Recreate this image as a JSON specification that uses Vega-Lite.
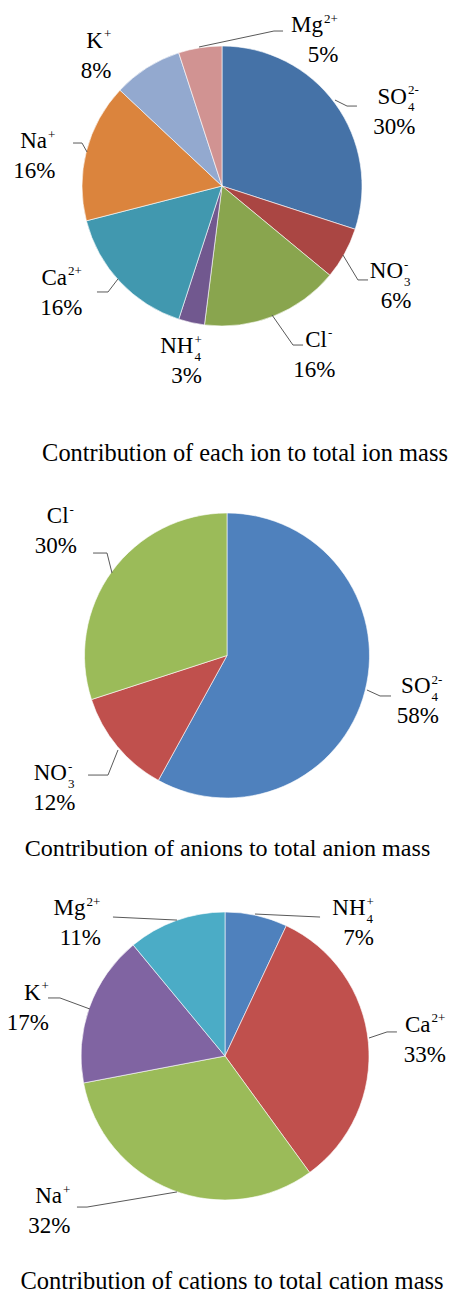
{
  "$schema": "https://vega.github.io/schema/vega-lite/v6.json",
  "padding": 0,
  "background": "white",
  "bounds": "flush",
  "spacing": 125,
  "config": {"view": {"stroke": null}},
  "resolve": {"scale": {"color": "independent", "theta": "independent", "x": "independent", "y": "independent"}},
  "datasets": {
    "p1": [
      {"ion": "SO₄²⁻", "share": 30},
      {"ion": "NO₃⁻", "share": 6},
      {"ion": "Cl⁻", "share": 16},
      {"ion": "NH₄⁺", "share": 3},
      {"ion": "Ca²⁺", "share": 16},
      {"ion": "Na⁺", "share": 16},
      {"ion": "K⁺", "share": 8},
      {"ion": "Mg²⁺", "share": 5}
    ],
    "p1_labels": [
      {"ion": "SO₄²⁻", "base": "SO", "sub": "4", "sup": "2-", "u": 1.321, "v": 0.586},
      {"ion": "NO₃⁻", "base": "NO", "sub": "3", "sup": "-", "u": 1.293, "v": -0.659},
      {"ion": "Cl⁻", "base": "Cl", "sub": "", "sup": "-", "u": 0.75, "v": -1.148},
      {"ion": "NH₄⁺", "base": "NH", "sub": "4", "sup": "+", "u": -0.204, "v": -1.195},
      {"ion": "Ca²⁺", "base": "Ca", "sub": "", "sup": "2+", "u": -1.107, "v": -0.707},
      {"ion": "Na⁺", "base": "Na", "sub": "", "sup": "+", "u": -1.25, "v": 0.271},
      {"ion": "K⁺", "base": "K", "sub": "", "sup": "+", "u": -0.85, "v": 0.986},
      {"ion": "Mg²⁺", "base": "Mg", "sub": "", "sup": "2+", "u": 0.721, "v": 1.1}
    ],
    "p1_leaders": [
      {"ion": "Mg²⁺", "pt": 1, "u": -0.164, "v": 0.993},
      {"ion": "Mg²⁺", "pt": 2, "u": 0.371, "v": 1.107},
      {"ion": "Mg²⁺", "pt": 3, "u": 0.436, "v": 1.107},
      {"ion": "SO₄²⁻", "pt": 1, "u": 0.807, "v": 0.614},
      {"ion": "SO₄²⁻", "pt": 2, "u": 0.893, "v": 0.571},
      {"ion": "SO₄²⁻", "pt": 3, "u": 0.964, "v": 0.571},
      {"ion": "NO₃⁻", "pt": 1, "u": 0.864, "v": -0.493},
      {"ion": "NO₃⁻", "pt": 2, "u": 0.971, "v": -0.671},
      {"ion": "NO₃⁻", "pt": 3, "u": 1.043, "v": -0.671},
      {"ion": "Cl⁻", "pt": 1, "u": 0.357, "v": -0.921},
      {"ion": "Cl⁻", "pt": 2, "u": 0.507, "v": -1.136},
      {"ion": "Cl⁻", "pt": 3, "u": 0.579, "v": -1.136},
      {"ion": "Ca²⁺", "pt": 1, "u": -0.743, "v": -0.664},
      {"ion": "Ca²⁺", "pt": 2, "u": -0.814, "v": -0.757},
      {"ion": "Ca²⁺", "pt": 3, "u": -0.893, "v": -0.757},
      {"ion": "Na⁺", "pt": 1, "u": -0.964, "v": 0.243},
      {"ion": "Na⁺", "pt": 2, "u": -1.0, "v": 0.307},
      {"ion": "Na⁺", "pt": 3, "u": -1.064, "v": 0.307}
    ],
    "p2": [
      {"ion": "SO₄²⁻", "share": 58},
      {"ion": "NO₃⁻", "share": 12},
      {"ion": "Cl⁻", "share": 30}
    ],
    "p2_labels": [
      {"ion": "SO₄²⁻", "base": "SO", "sub": "4", "sup": "2-", "u": 1.428, "v": -0.265},
      {"ion": "NO₃⁻", "base": "NO", "sub": "3", "sup": "-", "u": -1.123, "v": -0.874},
      {"ion": "Cl⁻", "base": "Cl", "sub": "", "sup": "-", "u": -1.112, "v": 0.928}
    ],
    "p2_leaders": [
      {"ion": "Cl⁻", "pt": 1, "u": -0.807, "v": 0.579},
      {"ion": "Cl⁻", "pt": 2, "u": -0.842, "v": 0.719},
      {"ion": "Cl⁻", "pt": 3, "u": -0.94, "v": 0.719},
      {"ion": "SO₄²⁻", "pt": 1, "u": 0.982, "v": -0.242},
      {"ion": "SO₄²⁻", "pt": 2, "u": 1.074, "v": -0.284},
      {"ion": "SO₄²⁻", "pt": 3, "u": 1.151, "v": -0.284},
      {"ion": "NO₃⁻", "pt": 1, "u": -0.765, "v": -0.663},
      {"ion": "NO₃⁻", "pt": 2, "u": -0.835, "v": -0.839},
      {"ion": "NO₃⁻", "pt": 3, "u": -0.975, "v": -0.839}
    ],
    "p3": [
      {"ion": "NH₄⁺", "share": 7},
      {"ion": "Ca²⁺", "share": 33},
      {"ion": "Na⁺", "share": 32},
      {"ion": "K⁺", "share": 17},
      {"ion": "Mg²⁺", "share": 11}
    ],
    "p3_labels": [
      {"ion": "NH₄⁺", "base": "NH", "sub": "4", "sup": "+", "u": 0.976, "v": 0.979},
      {"ion": "Ca²⁺", "base": "Ca", "sub": "", "sup": "2+", "u": 1.427, "v": 0.169},
      {"ion": "Na⁺", "base": "Na", "sub": "", "sup": "+", "u": -1.132, "v": -1.023},
      {"ion": "K⁺", "base": "K", "sub": "", "sup": "+", "u": -1.281, "v": 0.389},
      {"ion": "Mg²⁺", "base": "Mg", "sub": "", "sup": "2+", "u": -0.969, "v": 0.979}
    ],
    "p3_leaders": [
      {"ion": "NH₄⁺", "pt": 1, "u": 0.208, "v": 0.986},
      {"ion": "NH₄⁺", "pt": 2, "u": 0.66, "v": 0.965},
      {"ion": "Ca²⁺", "pt": 1, "u": 1.0, "v": 0.125},
      {"ion": "Ca²⁺", "pt": 2, "u": 1.125, "v": 0.167},
      {"ion": "Ca²⁺", "pt": 3, "u": 1.194, "v": 0.167},
      {"ion": "Na⁺", "pt": 1, "u": -0.333, "v": -0.944},
      {"ion": "Na⁺", "pt": 2, "u": -0.958, "v": -1.049},
      {"ion": "Na⁺", "pt": 3, "u": -1.028, "v": -1.049},
      {"ion": "K⁺", "pt": 1, "u": -0.9375, "v": 0.326},
      {"ion": "K⁺", "pt": 2, "u": -1.146, "v": 0.403},
      {"ion": "K⁺", "pt": 3, "u": -1.229, "v": 0.403},
      {"ion": "Mg²⁺", "pt": 1, "u": -0.333, "v": 0.944},
      {"ion": "Mg²⁺", "pt": 2, "u": -0.778, "v": 0.965}
    ]
  },
  "vconcat": [
    {
      "width": 444,
      "height": 372,
      "title": {"text": "Contribution of each ion to total ion mass", "orient": "bottom", "anchor": "middle", "frame": "group", "baseline": "alphabetic", "offset": 73, "dx": 23, "font": "Liberation Serif", "fontSize": 24.4, "fontWeight": "normal", "color": "#000000"},
      "layer": [
        {
          "data": {"name": "p1"},
          "transform": [{"window": [{"op": "row_number", "as": "idx"}]}],
          "mark": {"type": "arc", "radius": 140, "stroke": "#ffffff", "strokeWidth": 0.6},
          "encoding": {
            "theta": {"field": "share", "type": "quantitative", "stack": true, "scale": {"type": "linear", "domain": [0, 100], "range": [0, 6.283185307]}},
            "color": {"field": "ion", "type": "nominal", "legend": null, "scale": {"domain": ["SO₄²⁻", "NO₃⁻", "Cl⁻", "NH₄⁺", "Ca²⁺", "Na⁺", "K⁺", "Mg²⁺"], "range": ["#4572A7", "#AA4643", "#89A54E", "#71588F", "#4198AF", "#DB843D", "#93A9CF", "#D19392"]}},
            "order": {"field": "idx", "type": "quantitative"}
          }
        },
        {
          "data": {"name": "p1_leaders"},
          "mark": {"type": "line", "color": "#595959", "strokeWidth": 1},
          "encoding": {
            "x": {"field": "u", "type": "quantitative", "axis": null, "scale": {"domain": [-1.5857, 1.5857], "nice": false, "zero": false}},
            "y": {"field": "v", "type": "quantitative", "axis": null, "scale": {"domain": [-1.3286, 1.3286], "nice": false, "zero": false}},
            "detail": {"field": "ion"},
            "order": {"field": "pt", "type": "quantitative"}
          }
        },
        {
          "data": {"name": "p1"},
          "transform": [{"lookup": "ion", "from": {"data": {"name": "p1_labels"}, "key": "ion", "fields": ["base", "sub", "sup", "u", "v"]}}],
          "mark": {"type": "text", "align": "right", "baseline": "alphabetic", "font": "Times New Roman", "fontSize": 23, "color": "#000000"},
          "encoding": {
            "x": {"field": "u", "type": "quantitative", "axis": null, "scale": {"domain": [-1.5857, 1.5857], "nice": false, "zero": false}},
            "y": {"field": "v", "type": "quantitative", "axis": null, "scale": {"domain": [-1.3286, 1.3286], "nice": false, "zero": false}},
            "text": {"field": "base"}
          }
        },
        {
          "data": {"name": "p1"},
          "transform": [{"lookup": "ion", "from": {"data": {"name": "p1_labels"}, "key": "ion", "fields": ["base", "sub", "sup", "u", "v"]}}],
          "mark": {"type": "text", "align": "left", "baseline": "alphabetic", "dx": 1, "dy": -9.5, "font": "Times New Roman", "fontSize": 13, "color": "#000000"},
          "encoding": {
            "x": {"field": "u", "type": "quantitative", "axis": null, "scale": {"domain": [-1.5857, 1.5857], "nice": false, "zero": false}},
            "y": {"field": "v", "type": "quantitative", "axis": null, "scale": {"domain": [-1.3286, 1.3286], "nice": false, "zero": false}},
            "text": {"field": "sup"}
          }
        },
        {
          "data": {"name": "p1"},
          "transform": [{"lookup": "ion", "from": {"data": {"name": "p1_labels"}, "key": "ion", "fields": ["base", "sub", "sup", "u", "v"]}}],
          "mark": {"type": "text", "align": "left", "baseline": "alphabetic", "dx": 1, "dy": 7.5, "font": "Times New Roman", "fontSize": 13, "color": "#000000"},
          "encoding": {
            "x": {"field": "u", "type": "quantitative", "axis": null, "scale": {"domain": [-1.5857, 1.5857], "nice": false, "zero": false}},
            "y": {"field": "v", "type": "quantitative", "axis": null, "scale": {"domain": [-1.3286, 1.3286], "nice": false, "zero": false}},
            "text": {"field": "sub"}
          }
        },
        {
          "data": {"name": "p1"},
          "transform": [
            {"lookup": "ion", "from": {"data": {"name": "p1_labels"}, "key": "ion", "fields": ["base", "sub", "sup", "u", "v"]}},
            {"calculate": "datum.share + '%'", "as": "pct"}
          ],
          "mark": {"type": "text", "align": "right", "baseline": "alphabetic", "dx": {"expr": "datum.sup == '2+' ? 15.5 : 8.5"}, "dy": 30, "font": "Times New Roman", "fontSize": 23, "color": "#000000"},
          "encoding": {
            "x": {"field": "u", "type": "quantitative", "axis": null, "scale": {"domain": [-1.5857, 1.5857], "nice": false, "zero": false}},
            "y": {"field": "v", "type": "quantitative", "axis": null, "scale": {"domain": [-1.3286, 1.3286], "nice": false, "zero": false}},
            "text": {"field": "pct"}
          }
        }
      ]
    },
    {
      "width": 454,
      "height": 317,
      "title": {"text": "Contribution of anions to total anion mass", "orient": "bottom", "anchor": "middle", "frame": "group", "baseline": "alphabetic", "offset": 41, "dx": 0.5, "font": "Liberation Serif", "fontSize": 24.1, "fontWeight": "normal", "color": "#000000"},
      "layer": [
        {
          "data": {"name": "p2"},
          "transform": [{"window": [{"op": "row_number", "as": "idx"}]}],
          "mark": {"type": "arc", "radius": 142.5, "stroke": "#ffffff", "strokeWidth": 0.6},
          "encoding": {
            "theta": {"field": "share", "type": "quantitative", "stack": true, "scale": {"type": "linear", "domain": [0, 100], "range": [0, 6.283185307]}},
            "color": {"field": "ion", "type": "nominal", "legend": null, "scale": {"domain": ["SO₄²⁻", "NO₃⁻", "Cl⁻"], "range": ["#4F81BD", "#C0504D", "#9BBB59"]}},
            "order": {"field": "idx", "type": "quantitative"}
          }
        },
        {
          "data": {"name": "p2_leaders"},
          "mark": {"type": "line", "color": "#595959", "strokeWidth": 1},
          "encoding": {
            "x": {"field": "u", "type": "quantitative", "axis": null, "scale": {"domain": [-1.59298, 1.59298], "nice": false, "zero": false}},
            "y": {"field": "v", "type": "quantitative", "axis": null, "scale": {"domain": [-1.11228, 1.11228], "nice": false, "zero": false}},
            "detail": {"field": "ion"},
            "order": {"field": "pt", "type": "quantitative"}
          }
        },
        {
          "data": {"name": "p2"},
          "transform": [{"lookup": "ion", "from": {"data": {"name": "p2_labels"}, "key": "ion", "fields": ["base", "sub", "sup", "u", "v"]}}],
          "mark": {"type": "text", "align": "right", "baseline": "alphabetic", "font": "Times New Roman", "fontSize": 23, "color": "#000000"},
          "encoding": {
            "x": {"field": "u", "type": "quantitative", "axis": null, "scale": {"domain": [-1.59298, 1.59298], "nice": false, "zero": false}},
            "y": {"field": "v", "type": "quantitative", "axis": null, "scale": {"domain": [-1.11228, 1.11228], "nice": false, "zero": false}},
            "text": {"field": "base"}
          }
        },
        {
          "data": {"name": "p2"},
          "transform": [{"lookup": "ion", "from": {"data": {"name": "p2_labels"}, "key": "ion", "fields": ["base", "sub", "sup", "u", "v"]}}],
          "mark": {"type": "text", "align": "left", "baseline": "alphabetic", "dx": 1, "dy": -9.5, "font": "Times New Roman", "fontSize": 13, "color": "#000000"},
          "encoding": {
            "x": {"field": "u", "type": "quantitative", "axis": null, "scale": {"domain": [-1.59298, 1.59298], "nice": false, "zero": false}},
            "y": {"field": "v", "type": "quantitative", "axis": null, "scale": {"domain": [-1.11228, 1.11228], "nice": false, "zero": false}},
            "text": {"field": "sup"}
          }
        },
        {
          "data": {"name": "p2"},
          "transform": [{"lookup": "ion", "from": {"data": {"name": "p2_labels"}, "key": "ion", "fields": ["base", "sub", "sup", "u", "v"]}}],
          "mark": {"type": "text", "align": "left", "baseline": "alphabetic", "dx": 1, "dy": 7.5, "font": "Times New Roman", "fontSize": 13, "color": "#000000"},
          "encoding": {
            "x": {"field": "u", "type": "quantitative", "axis": null, "scale": {"domain": [-1.59298, 1.59298], "nice": false, "zero": false}},
            "y": {"field": "v", "type": "quantitative", "axis": null, "scale": {"domain": [-1.11228, 1.11228], "nice": false, "zero": false}},
            "text": {"field": "sub"}
          }
        },
        {
          "data": {"name": "p2"},
          "transform": [
            {"lookup": "ion", "from": {"data": {"name": "p2_labels"}, "key": "ion", "fields": ["base", "sub", "sup", "u", "v"]}},
            {"calculate": "datum.share + '%'", "as": "pct"}
          ],
          "mark": {"type": "text", "align": "right", "baseline": "alphabetic", "dx": {"expr": "datum.sup == '2+' ? 15.5 : 8.5"}, "dy": 30, "font": "Times New Roman", "fontSize": 23, "color": "#000000"},
          "encoding": {
            "x": {"field": "u", "type": "quantitative", "axis": null, "scale": {"domain": [-1.59298, 1.59298], "nice": false, "zero": false}},
            "y": {"field": "v", "type": "quantitative", "axis": null, "scale": {"domain": [-1.11228, 1.11228], "nice": false, "zero": false}},
            "text": {"field": "pct"}
          }
        }
      ]
    },
    {
      "width": 450,
      "height": 234,
      "title": {"text": "Contribution of cations to total cation mass", "orient": "bottom", "anchor": "middle", "frame": "group", "baseline": "alphabetic", "offset": 50.7, "dx": 7, "font": "Liberation Serif", "fontSize": 24.5, "fontWeight": "normal", "color": "#000000"},
      "layer": [
        {
          "data": {"name": "p3"},
          "transform": [{"window": [{"op": "row_number", "as": "idx"}]}],
          "mark": {"type": "arc", "radius": 144, "stroke": "#ffffff", "strokeWidth": 0.6},
          "encoding": {
            "theta": {"field": "share", "type": "quantitative", "stack": true, "scale": {"type": "linear", "domain": [0, 100], "range": [0, 6.283185307]}},
            "color": {"field": "ion", "type": "nominal", "legend": null, "scale": {"domain": ["NH₄⁺", "Ca²⁺", "Na⁺", "K⁺", "Mg²⁺"], "range": ["#4F81BD", "#C0504D", "#9BBB59", "#8064A2", "#4BACC6"]}},
            "order": {"field": "idx", "type": "quantitative"}
          }
        },
        {
          "data": {"name": "p3_leaders"},
          "mark": {"type": "line", "color": "#595959", "strokeWidth": 1},
          "encoding": {
            "x": {"field": "u", "type": "quantitative", "axis": null, "scale": {"domain": [-1.5625, 1.5625], "nice": false, "zero": false}},
            "y": {"field": "v", "type": "quantitative", "axis": null, "scale": {"domain": [-0.8125, 0.8125], "nice": false, "zero": false}},
            "detail": {"field": "ion"},
            "order": {"field": "pt", "type": "quantitative"}
          }
        },
        {
          "data": {"name": "p3"},
          "transform": [{"lookup": "ion", "from": {"data": {"name": "p3_labels"}, "key": "ion", "fields": ["base", "sub", "sup", "u", "v"]}}],
          "mark": {"type": "text", "align": "right", "baseline": "alphabetic", "font": "Times New Roman", "fontSize": 23, "color": "#000000"},
          "encoding": {
            "x": {"field": "u", "type": "quantitative", "axis": null, "scale": {"domain": [-1.5625, 1.5625], "nice": false, "zero": false}},
            "y": {"field": "v", "type": "quantitative", "axis": null, "scale": {"domain": [-0.8125, 0.8125], "nice": false, "zero": false}},
            "text": {"field": "base"}
          }
        },
        {
          "data": {"name": "p3"},
          "transform": [{"lookup": "ion", "from": {"data": {"name": "p3_labels"}, "key": "ion", "fields": ["base", "sub", "sup", "u", "v"]}}],
          "mark": {"type": "text", "align": "left", "baseline": "alphabetic", "dx": 1, "dy": -9.5, "font": "Times New Roman", "fontSize": 13, "color": "#000000"},
          "encoding": {
            "x": {"field": "u", "type": "quantitative", "axis": null, "scale": {"domain": [-1.5625, 1.5625], "nice": false, "zero": false}},
            "y": {"field": "v", "type": "quantitative", "axis": null, "scale": {"domain": [-0.8125, 0.8125], "nice": false, "zero": false}},
            "text": {"field": "sup"}
          }
        },
        {
          "data": {"name": "p3"},
          "transform": [{"lookup": "ion", "from": {"data": {"name": "p3_labels"}, "key": "ion", "fields": ["base", "sub", "sup", "u", "v"]}}],
          "mark": {"type": "text", "align": "left", "baseline": "alphabetic", "dx": 1, "dy": 7.5, "font": "Times New Roman", "fontSize": 13, "color": "#000000"},
          "encoding": {
            "x": {"field": "u", "type": "quantitative", "axis": null, "scale": {"domain": [-1.5625, 1.5625], "nice": false, "zero": false}},
            "y": {"field": "v", "type": "quantitative", "axis": null, "scale": {"domain": [-0.8125, 0.8125], "nice": false, "zero": false}},
            "text": {"field": "sub"}
          }
        },
        {
          "data": {"name": "p3"},
          "transform": [
            {"lookup": "ion", "from": {"data": {"name": "p3_labels"}, "key": "ion", "fields": ["base", "sub", "sup", "u", "v"]}},
            {"calculate": "datum.share + '%'", "as": "pct"}
          ],
          "mark": {"type": "text", "align": "right", "baseline": "alphabetic", "dx": {"expr": "datum.sup == '2+' ? 15.5 : 8.5"}, "dy": 30, "font": "Times New Roman", "fontSize": 23, "color": "#000000"},
          "encoding": {
            "x": {"field": "u", "type": "quantitative", "axis": null, "scale": {"domain": [-1.5625, 1.5625], "nice": false, "zero": false}},
            "y": {"field": "v", "type": "quantitative", "axis": null, "scale": {"domain": [-0.8125, 0.8125], "nice": false, "zero": false}},
            "text": {"field": "pct"}
          }
        }
      ]
    }
  ]
}
